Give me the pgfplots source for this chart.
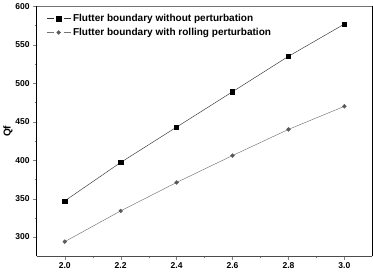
\documentclass[border=0pt]{standalone}
\usepackage{pgfplots}
\pgfplotsset{compat=1.18}
\usepackage{fontspec}
\setmainfont{Liberation Sans}
\begin{document}
\begin{tikzpicture}[x=1bp,y=1bp]
\begin{axis}[
  scale only axis,
  width=333bp, height=248bp,
  xmin=1.9, xmax=3.1, ymin=275, ymax=600,
  xtick={2.0,2.2,...,3.0},
  ytick={300,350,...,600},
  minor x tick num=1, minor y tick num=1,
  /pgf/number format/assume math mode=true,
  ticklabel style={font=\fontsize{8.5}{9}\selectfont\bfseries},
  xticklabel style={yshift=1bp, /pgf/number format/fixed, /pgf/number format/fixed zerofill, /pgf/number format/precision=1},
  yticklabel style={xshift=0bp, /pgf/number format/fixed},
  tick align=outside,
  xtick pos=bottom, ytick pos=left,
  major tick length=3.5bp, minor tick length=2bp,
  ylabel={\bfseries Qf},
  ylabel style={font=\fontsize{10}{11}\selectfont},
  ylabel shift=-4bp,
  axis x line*=bottom, axis y line*=left,
  axis line style={line width=0.9pt, -},
  x axis line style={draw=black!70},
  extra description/.code={
    \draw[black!55, line width=1.3pt] (rel axis cs:0,1) -- (rel axis cs:1,1);
    \draw[black, line width=0.9pt] (rel axis cs:1,0) -- (rel axis cs:1,1);
  },
  legend style={draw=none, fill=none, at={(0.025,0.985)}, anchor=north west,
    font=\fontsize{10}{11}\selectfont\bfseries, row sep=1pt, inner xsep=1bp},
  legend cell align=left,
  legend image code/.code={
    \draw[#1, mark=none] (0bp,0bp) -- (7bp,0bp);
    \draw[#1, mark=none] (17bp,0bp) -- (24bp,0bp);
    \draw[#1, only marks] plot coordinates {(12bp,0bp)};
  },
]
\addplot[black!80, line width=0.45pt, mark=square*, mark size=2.1pt, mark options={fill=black,draw=black}]
  coordinates {(2.0,347) (2.2,397) (2.4,443) (2.6,489) (2.8,535) (3.0,577)};
\addlegendentry{Flutter boundary without perturbation}
\addplot[black!55, line width=0.45pt, mark=*, mark size=1.9pt, mark options={fill=black!65,draw=black!65}]
  coordinates {(2.0,294) (2.2,334) (2.4,371) (2.6,406) (2.8,440) (3.0,470)};
\addlegendentry{Flutter boundary with rolling perturbation}
\end{axis}
\end{tikzpicture}
\end{document}
